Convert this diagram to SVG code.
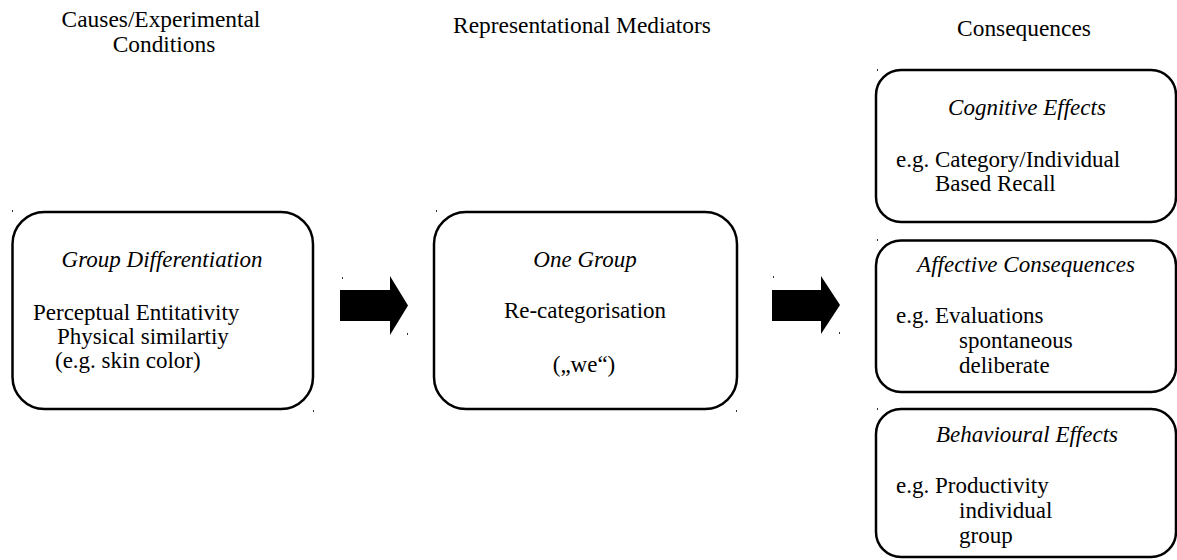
<svg xmlns="http://www.w3.org/2000/svg" width="1177" height="560" viewBox="0 0 1177 560">
  <style>
    text { font-family: "Liberation Serif", "Times New Roman", serif; font-size: 23px; fill: #000; }
    .head { font-size: 23.4px; }
    .mid { text-anchor: middle; }
    .it { font-style: italic; }
    .box { fill: #fff; stroke: #000; stroke-width: 2.5; }
    .arrow { fill: #000; stroke: none; }
    .tick { fill: #333; }
  </style>

  <!-- column headings -->
  <g id="headings">
    <text class="head mid" x="161" y="27">Causes/Experimental</text>
    <text class="head mid" x="164" y="52">Conditions</text>
    <text class="head mid" x="582" y="33">Representational Mediators</text>
    <text class="head mid" x="1024" y="36">Consequences</text>
  </g>

  <!-- causes -->
  <g id="group-differentiation">
    <rect class="box" x="12.5" y="212" width="300.5" height="197" rx="32" ry="32"/>
    <text class="it mid" x="162" y="267">Group Differentiation</text>
    <text x="33" y="320">Perceptual Entitativity</text>
    <text x="57" y="344">Physical similartiy</text>
    <text x="55" y="368">(e.g. skin color)</text>
    <rect class="tick" x="12" y="210" width="1" height="2"/>
    <rect class="tick" x="313" y="410" width="1" height="2"/>
  </g>

  <!-- mediator -->
  <g id="one-group">
    <rect class="box" x="434" y="212" width="303" height="197" rx="32" ry="32"/>
    <text class="it mid" x="585" y="267">One Group</text>
    <text class="mid" x="585" y="318">Re-categorisation</text>
    <text class="mid" x="584" y="372">(„we“)</text>
    <rect class="tick" x="436" y="210" width="1" height="2"/>
    <rect class="tick" x="736" y="410" width="1" height="2"/>
  </g>

  <!-- consequences -->
  <g id="cognitive-effects">
    <rect class="box" x="876" y="70" width="300" height="152" rx="25" ry="25"/>
    <text class="it mid" x="1027" y="115">Cognitive Effects</text>
    <text x="896" y="167">e.g. Category/Individual</text>
    <text x="935" y="191">Based Recall</text>
    <rect class="tick" x="877" y="69" width="1" height="2"/>
  </g>

  <g id="affective-consequences">
    <rect class="box" x="876" y="240.5" width="300" height="151.5" rx="25" ry="25"/>
    <text class="it mid" x="1026" y="272">Affective Consequences</text>
    <text x="896" y="323">e.g. Evaluations</text>
    <text x="959" y="348">spontaneous</text>
    <text x="959" y="373">deliberate</text>
    <rect class="tick" x="877" y="239" width="1" height="2"/>
  </g>

  <g id="behavioural-effects">
    <rect class="box" x="876" y="409" width="300" height="148" rx="25" ry="25"/>
    <text class="it mid" x="1027" y="442">Behavioural Effects</text>
    <text x="896" y="493">e.g. Productivity</text>
    <text x="959" y="518">individual</text>
    <text x="959" y="543">group</text>
    <rect class="tick" x="877" y="408" width="1" height="2"/>
  </g>

  <!-- block arrows between columns -->
  <g id="connectors">
    <polygon class="arrow" points="340,290 390,290 390,276 408,305.5 390,335 390,321 340,321"/>
    <rect class="tick" x="342" y="277" width="1" height="2"/>
    <rect class="tick" x="407" y="333" width="1" height="2"/>
    <polygon class="arrow" points="772,290 821,290 821,276 840,305 821,334 821,321 772,321"/>
    <rect class="tick" x="773" y="276" width="1" height="2"/>
    <rect class="tick" x="839" y="332" width="1" height="2"/>
  </g>
</svg>
